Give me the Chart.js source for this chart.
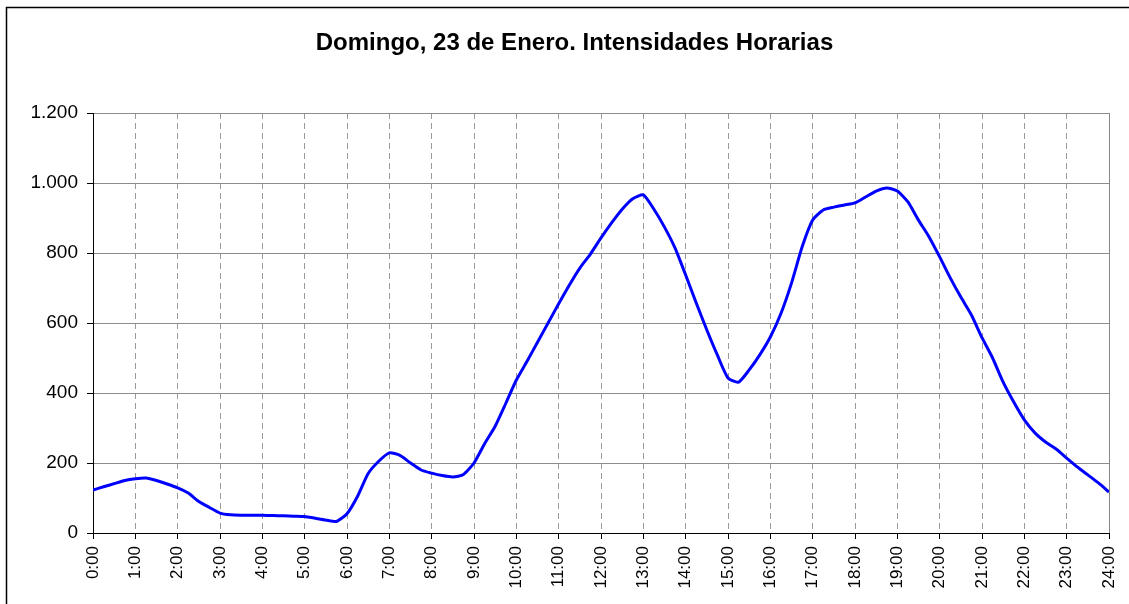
<!DOCTYPE html>
<html>
<head>
<meta charset="utf-8">
<script src="https://cdn.jsdelivr.net/npm/chart.js@4/dist/chart.umd.min.js"></script>
<style>
  body { margin: 0; background: #fff; }
  #wrap { width: 1129px; height: 604px; }
</style>
</head>
<body>
<div id="wrap"><canvas id="chart" width="1129" height="604"></canvas></div>
<script>
var chartTitle = 'Domingo, 23 de Enero. Intensidades Horarias';

// quarter-hour readings
var times = [
  '0:00', '0:15', '0:30', '0:45', '1:00', '1:15', '1:30', '1:45',
  '2:00', '2:15', '2:30', '2:45', '3:00', '3:15', '3:30', '3:45',
  '4:00', '4:15', '4:30', '4:45', '5:00', '5:15', '5:30', '5:45',
  '6:00', '6:15', '6:30', '6:45', '7:00', '7:15', '7:30', '7:45',
  '8:00', '8:15', '8:30', '8:45', '9:00', '9:15', '9:30', '9:45',
  '10:00', '10:15', '10:30', '10:45', '11:00', '11:15', '11:30', '11:45',
  '12:00', '12:15', '12:30', '12:45', '13:00', '13:15', '13:30', '13:45',
  '14:00', '14:15', '14:30', '14:45', '15:00', '15:15', '15:30', '15:45',
  '16:00', '16:15', '16:30', '16:45', '17:00', '17:15', '17:30', '17:45',
  '18:00', '18:15', '18:30', '18:45', '19:00', '19:15', '19:30', '19:45',
  '20:00', '20:15', '20:30', '20:45', '21:00', '21:15', '21:30', '21:45',
  '22:00', '22:15', '22:30', '22:45', '23:00', '23:15', '23:30', '23:45',
  '24:00'
];

var intensidades = [
  123, 132, 141, 150, 155, 157, 150, 140,
  129, 114, 90, 73, 57, 52, 51, 51,
  51, 50, 49, 48, 47, 42, 37, 33,
  55, 105, 170, 205, 229, 222, 200, 180,
  171, 164, 160, 167, 200, 255, 305, 370,
  437, 490, 545, 600, 655, 708, 757, 797,
  843, 886, 925, 955, 966, 925, 874, 814,
  737, 657, 580, 508, 443, 431, 466, 509,
  560, 627, 714, 817, 894, 923, 931, 937,
  943, 960, 977, 986, 977, 946, 894, 846,
  789, 729, 674, 623, 558, 500, 431, 374,
  323, 286, 260, 240, 214, 189, 166, 143,
  117
];

var yTicks = [0, 200, 400, 600, 800, 1000, 1200];

function toHours(t) {
  var p = t.split(':');
  return parseInt(p[0], 10) + parseInt(p[1], 10) / 60;
}

function fmtThousands(v) {
  return String(v).replace(/\B(?=(\d{3})+(?!\d))/g, '.');
}

var points = [];
for (var i = 0; i < times.length; i++) {
  points.push({x: toHours(times[i]), y: intensidades[i]});
}

var FONT = 'Arial, "Liberation Sans", sans-serif';

// outer frame, title, right edge of the plot
var framePlugin = {
  id: 'frame',
  beforeDraw: function(chart) {
    var ctx = chart.ctx;
    ctx.save();
    ctx.fillStyle = '#fff';
    ctx.fillRect(0, 0, chart.width, chart.height);
    ctx.strokeStyle = '#000';
    ctx.lineWidth = 1.5;
    ctx.beginPath();
    ctx.moveTo(6.5, chart.height);
    ctx.lineTo(6.5, 7.5);
    ctx.lineTo(chart.width, 7.5);
    ctx.stroke();

    ctx.fillStyle = '#000';
    ctx.font = 'bold 24px ' + FONT;
    ctx.textAlign = 'center';
    ctx.textBaseline = 'middle';
    ctx.fillText(chartTitle, 574.5, 43);
    ctx.restore();
  },
  afterDatasetsDraw: function(chart) {
    var a = chart.chartArea;
    var ctx = chart.ctx;
    ctx.save();
    ctx.strokeStyle = '#888';
    ctx.lineWidth = 1;
    ctx.beginPath();
    ctx.moveTo(Math.round(a.right) + 0.5, a.top);
    ctx.lineTo(Math.round(a.right) + 0.5, a.bottom);
    ctx.stroke();
    ctx.restore();
  }
};

new Chart(document.getElementById('chart'), {
  type: 'line',
  data: {
    datasets: [{
      data: points,
      borderColor: '#0000ff',
      borderWidth: 3,
      pointRadius: 0,
      tension: 0.2,
      fill: false
    }]
  },
  options: {
    responsive: false,
    animation: false,
    layout: { padding: { left: 0, right: 20, top: 113, bottom: 0 } },
    plugins: {
      legend: { display: false },
      tooltip: { enabled: false },
      title: { display: false }
    },
    scales: {
      x: {
        type: 'linear',
        min: 0,
        max: 24,
        afterFit: function(s) {
          s.height = 71;
          s.paddingLeft = 0;
          s.paddingRight = 0;
        },
        afterBuildTicks: function(s) {
          s.ticks = times.filter(function(t) { return /:00$/.test(t); })
            .map(function(t) { return {value: toHours(t)}; });
        },
        ticks: {
          autoSkip: false,
          maxRotation: 90,
          minRotation: 90,
          padding: 7,
          color: '#000',
          font: { family: FONT, size: 17 },
          callback: function(v) { return v + ':00'; }
        },
        grid: {
          color: '#9a9a9a',
          tickColor: '#000',
          tickLength: 6,
          lineWidth: 1
        },
        border: { display: true, color: '#000', width: 1, dash: [6, 4] }
      },
      y: {
        min: 0,
        max: 1200,
        afterFit: function(s) { s.width = 93; },
        afterBuildTicks: function(s) {
          s.ticks = yTicks.map(function(v) { return {value: v}; });
        },
        ticks: {
          padding: 9,
          color: '#000',
          font: { family: FONT, size: 19 },
          callback: function(v) { return fmtThousands(v); }
        },
        grid: {
          color: '#8c8c8c',
          tickColor: '#000',
          tickLength: 6,
          lineWidth: 1
        },
        border: { display: true, color: '#000', width: 1 }
      }
    }
  },
  plugins: [framePlugin]
});
</script>
</body>
</html>
